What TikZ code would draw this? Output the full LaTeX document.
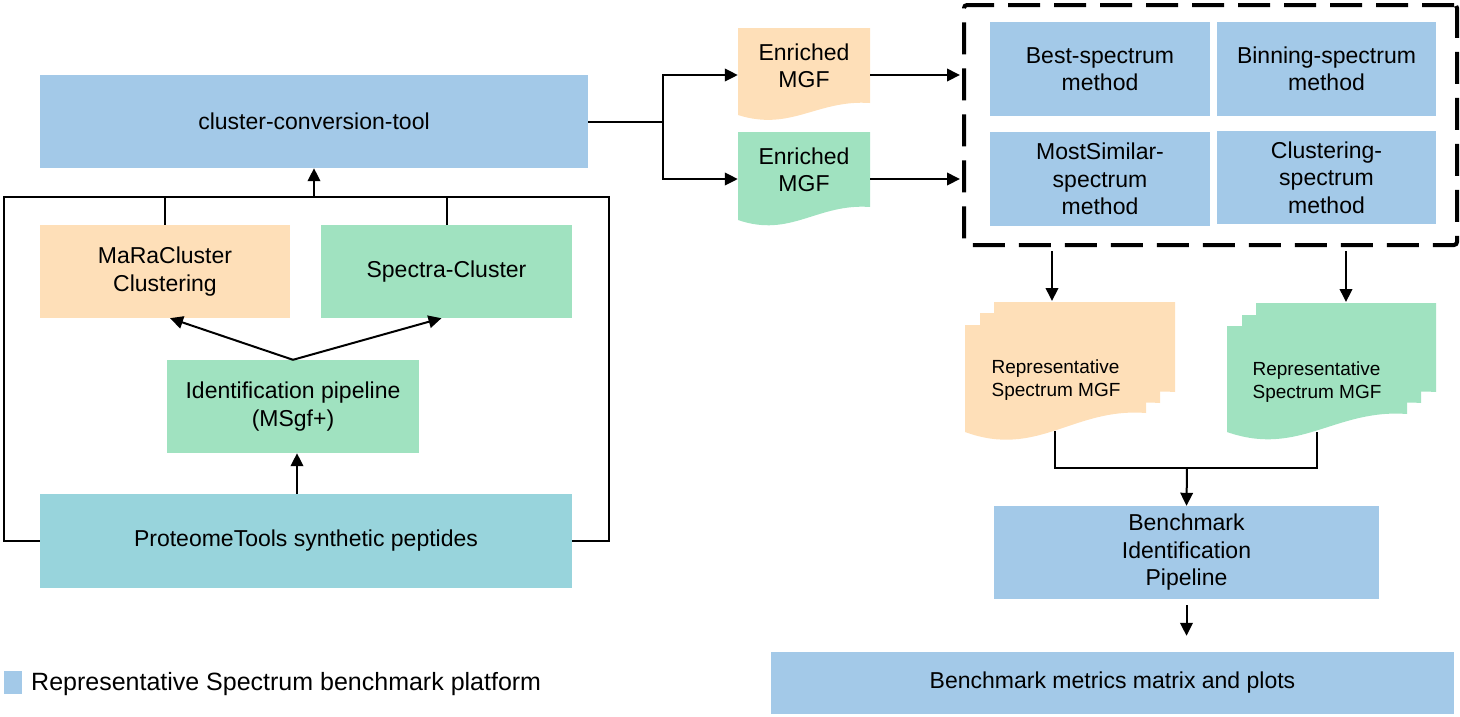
\documentclass[tikz,border=0pt]{standalone}
\usepackage{fontspec}
\setmainfont{Liberation Sans}
\usetikzlibrary{arrows.meta}
\definecolor{cblue}{HTML}{A3C9E8}
\definecolor{corange}{HTML}{FEDFB8}
\definecolor{cgreen}{HTML}{A0E2C0}
\definecolor{cteal}{HTML}{98D4DC}
% #1 colour, #2 left, #3 top, #4 right, #5 bottom-left y, #6 bottom-right y
\newcommand\docshape[6]{%
  \fill[#1] (#2,#3) -- (#4,#3) -- (#4,#6)
    .. controls ({#2+0.6*(#4-#2)},{#6-0.3*(#5-#6)}) and ({#2+0.4*(#4-#2)},{#5+1.4*(#5-#6)}) .. (#2,#5) -- cycle;}
\tikzset{
  bx/.style={inner sep=0pt, align=center, font=\fontsize{23}{27.5}\selectfont},
  rtxt/.style={inner sep=0pt, align=left, font=\fontsize{19}{23}\selectfont},
  ghost/.style={inner sep=0pt, minimum width=132pt, minimum height=94pt},
  conn/.style={line width=2pt},
  arr/.style={conn, -{Triangle[length=13pt,width=12.5pt]}},
}
\begin{document}
\begin{tikzpicture}[x=1pt,y=-1pt]
\useasboundingbox (0,0) rectangle (1460,716);

% left part
\node[bx, fill=cblue, minimum width=548pt, minimum height=93pt] (conv) at (314,121.5) {cluster-conversion-tool};
\node[bx, fill=corange, minimum width=250pt, minimum height=93pt] (mara) at (165,271.5) {MaRaCluster\\Clustering};
\node[bx, fill=cgreen, minimum width=251pt, minimum height=93pt] (spec) at (446.5,271.5) {Spectra-Cluster};
\node[bx, fill=cgreen, minimum width=252pt, minimum height=93pt] (ident) at (293,406.5) {Identification pipeline\\(MSgf+)};
\node[bx, fill=cteal, minimum width=532pt, minimum height=94pt] (prot) at (306,541) {ProteomeTools synthetic peptides};

\coordinate (bl) at (4,197);
\coordinate (br) at (609,197);
\draw[conn] (prot.west) -| (bl) -- (br) |- (prot.east);
\draw[conn] (mara.north) -- (mara.north |- bl);
\draw[conn] (spec.north) -- (spec.north |- bl);
\draw[arr] (conv.south |- bl) -- (conv.south);
\draw[arr] (ident.north) -- ([xshift=5pt]mara.south);
\draw[arr] (ident.north) -- ([xshift=-5pt]spec.south);
\draw[arr] ([xshift=4pt]ident.south |- prot.north) -- ([xshift=4pt]ident.south);

% enriched MGF documents
\docshape{corange}{738}{28}{870}{115}{103}
\docshape{cgreen}{738}{132}{870}{220}{207}
\node[ghost] (enr1) at (804,75) {};
\node[ghost] (enr2) at (804,179) {};
\node[bx] (enr1t) at (804,66) {Enriched\\MGF};
\node[bx] (enr2t) at (804,170) {Enriched\\MGF};

% dashed method box
\node[draw, line width=4pt, dash pattern=on 32pt off 14pt, rounded corners=3pt, inner sep=0pt,
      minimum width=493pt, minimum height=240pt] (dbox) at (1210.5,125) {};
\node[bx, fill=cblue, minimum width=220pt, minimum height=94pt] (best) at (1100,69) {Best-spectrum\\method};
\node[bx, fill=cblue, minimum width=219pt, minimum height=94pt] (bin) at (1326.5,69) {Binning-spectrum\\method};
\node[bx, fill=cblue, minimum width=220pt, minimum height=94pt] (most) at (1100,179) {MostSimilar-\\spectrum\\method};
\node[bx, fill=cblue, minimum width=219pt, minimum height=93pt] (clus) at (1326.5,177.5) {Clustering-\\spectrum\\method};

\coordinate (split) at (663,121.5);
\draw[conn] (conv.east) -- (split);
\draw[arr] (split) |- (enr1.west);
\draw[arr] (split) |- (enr2.west);
\draw[arr, shorten >=2pt] (enr1.east) -- (enr1.east -| dbox.west);
\draw[arr, shorten >=2pt] (enr2.east) -- (enr2.east -| dbox.west);

% representative spectrum multi-documents
\docshape{corange}{994}{302}{1175}{409}{392}
\docshape{corange}{980}{313}{1160}{420}{403}
\docshape{corange}{965}{325}{1146}{432}{413}
\docshape{cgreen}{1256}{303}{1436}{409}{392}
\docshape{cgreen}{1242}{315}{1421}{421}{403}
\docshape{cgreen}{1227}{326}{1407}{432}{414}
\node[rtxt] (rd1t) at (1056,380) {Representative\\Spectrum MGF};
\node[rtxt] (rd2t) at (1317,382) {Representative\\Spectrum MGF};

\coordinate (rd1top) at (1052,301);
\coordinate (rd2top) at (1346,302);
\draw[arr, shorten <=4pt] (dbox.south -| rd1top) -- (rd1top);
\draw[arr, shorten <=4pt] (dbox.south -| rd2top) -- (rd2top);

% benchmark
\node[bx, fill=cblue, minimum width=385pt, minimum height=93pt] (bip) at (1186.5,552.5) {Benchmark\\Identification\\Pipeline};
\node[bx, fill=cblue, minimum width=683pt, minimum height=62pt] (metrics) at (1112.5,683) {Benchmark metrics matrix and plots};

\coordinate (rd1b) at (1055,431);
\coordinate (rd2b) at (1317,432);
\coordinate (join) at (1187,468);
\draw[conn] (rd1b) |- (join) -| (rd2b);
\draw[arr] (join) -- (bip.north);
\draw[arr, shorten <=6pt, shorten >=16pt] (bip.south) -- (bip.south |- metrics.north);

% legend
\fill[cblue] (4,671) rectangle (22,694);
\node[anchor=west, inner sep=0pt, font=\fontsize{25}{30}\selectfont] (leg) at (31,684) {Representative Spectrum benchmark platform};
\end{tikzpicture}
\end{document}
